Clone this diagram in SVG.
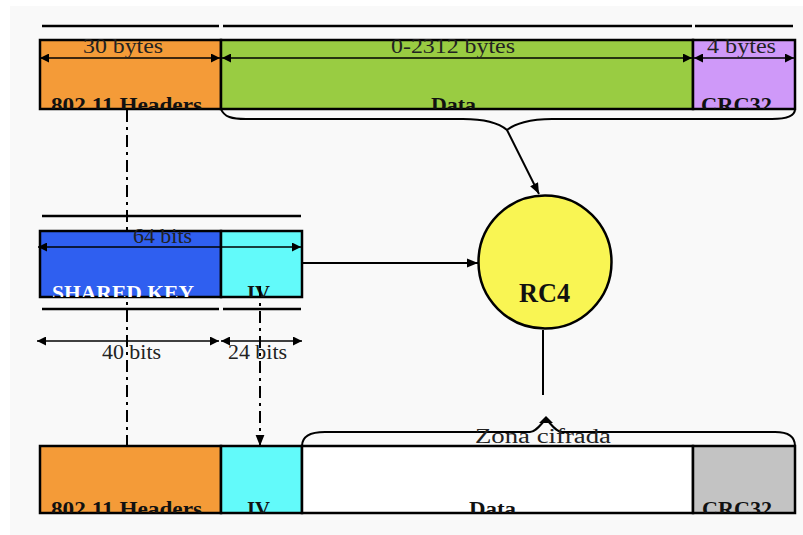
<svg xmlns="http://www.w3.org/2000/svg" width="803" height="535" viewBox="0 0 803 535">
<defs>
<marker id="ah" viewBox="0 0 10 10" refX="10" refY="5" markerWidth="9" markerHeight="9" markerUnits="userSpaceOnUse" orient="auto-start-reverse"><path d="M0,0 L10,5 L0,10 z" fill="#000"/></marker>
<marker id="ahb" viewBox="0 0 10 10" refX="10" refY="5" markerWidth="11" markerHeight="11" markerUnits="userSpaceOnUse" orient="auto"><path d="M0,1 L10,5 L0,9 z" fill="#000"/></marker>
<clipPath id="c1"><rect x="40" y="40" width="755" height="69"/></clipPath>
<clipPath id="c2"><rect x="40" y="231" width="262" height="66"/></clipPath>
<clipPath id="c3"><rect x="40" y="446" width="755" height="67"/></clipPath>
</defs>
<style>
.box{stroke:#000;stroke-width:2.5}
.lbl{font-family:"Liberation Serif","Times New Roman",serif;font-weight:bold;font-size:20px;fill:#111}
.dim{font-family:"Liberation Serif","Times New Roman",serif;font-size:20px;fill:#222}
.bar{stroke:#000;stroke-width:2.5;fill:none}
.dl{stroke:#000;stroke-width:1.6;fill:none;marker-start:url(#ah);marker-end:url(#ah)}
.dd{stroke:#000;stroke-width:2;fill:none;stroke-dasharray:12 5 3 5}
.ln{stroke:#000;stroke-width:2;fill:none}
</style>
<rect x="10" y="6" width="793" height="529" fill="#f9f9f9"/>

<g id="connectors">
<path class="dd" d="M127,110 V446"/>
<path class="ln" d="M221,109 C224,117 232,119 246,119 H463 C485,119 500,124 507,130 C514,124 530,119 552,119 H772 C788,119 795,116 795,109"/>
<path class="ln" d="M507,130 L539,194" marker-end="url(#ahb)"/>
<path class="ln" d="M302,263 H478" marker-end="url(#ahb)"/>
<path class="ln" d="M543,330 V395"/>
<path class="ln" d="M302,446 C302,437 310,432 325,432 H530 C536,432 540,425 546,419 C552,425 556,432 562,432 H775 C788,432 795,437 795,446"/>
<path d="M539,423 L546,416 L553,423 z" fill="#000"/>
</g>

<g id="top-headers">
<rect class="box" x="40" y="40" width="181" height="69" fill="#f49b38"/>
<text class="lbl" x="51" y="112" textLength="151" lengthAdjust="spacingAndGlyphs" clip-path="url(#c1)">802.11 Headers</text>
</g>
<g id="top-data">
<rect class="box" x="221" y="40" width="472" height="69" fill="#99cc42"/>
<text class="lbl" x="431" y="112" textLength="45" lengthAdjust="spacingAndGlyphs" clip-path="url(#c1)">Data</text>
</g>
<g id="top-crc">
<rect class="box" x="693" y="40" width="102" height="69" fill="#cf99f9"/>
<text class="lbl" x="701" y="112" textLength="71" lengthAdjust="spacingAndGlyphs" clip-path="url(#c1)">CRC32</text>
</g>

<g id="shared-key">
<rect class="box" x="40" y="231" width="181" height="66" fill="#2f5ff0"/>
<text class="lbl" x="52" y="300" textLength="142" lengthAdjust="spacingAndGlyphs" style="fill:#fff" clip-path="url(#c2)">SHARED KEY</text>
</g>
<g id="iv-key">
<rect class="box" x="221" y="231" width="81" height="66" fill="#62fafa"/>
<text class="lbl" x="247" y="300" textLength="23" lengthAdjust="spacingAndGlyphs" clip-path="url(#c2)">IV</text>
</g>

<g id="rc4">
<circle cx="545" cy="262" r="66.5" fill="#f9f553" stroke="#000" stroke-width="2.5"/>
<text class="lbl" x="519" y="302" style="font-size:28px" textLength="51" lengthAdjust="spacingAndGlyphs">RC4</text>
</g>

<g id="bottom-headers">
<rect class="box" x="40" y="446" width="181" height="67" fill="#f49b38"/>
<text class="lbl" x="51" y="516" textLength="151" lengthAdjust="spacingAndGlyphs" clip-path="url(#c3)">802.11 Headers</text>
</g>
<g id="bottom-iv">
<rect class="box" x="221" y="446" width="81" height="67" fill="#62fafa"/>
<text class="lbl" x="247" y="516" textLength="23" lengthAdjust="spacingAndGlyphs" clip-path="url(#c3)">IV</text>
</g>
<g id="bottom-data">
<rect class="box" x="302" y="446" width="391" height="67" fill="#ffffff"/>
<text class="lbl" x="469" y="516" textLength="47" lengthAdjust="spacingAndGlyphs" clip-path="url(#c3)">Data</text>
</g>
<g id="bottom-crc">
<rect class="box" x="693" y="446" width="102" height="67" fill="#c3c3c3"/>
<text class="lbl" x="702" y="516" textLength="70" lengthAdjust="spacingAndGlyphs" clip-path="url(#c3)">CRC32</text>
</g>

<g id="iv-link">
<path class="dd" d="M260,286 V446" marker-end="url(#ahb)"/>
</g>

<g id="dimensions">
<path class="bar" d="M42,26 H219 M223,26 H692 M695,26 H793"/>
<path class="dl" d="M40,58 H220"/>
<path class="dl" d="M222,58 H692"/>
<path class="dl" d="M694,58 H794"/>
<text class="dim" x="83" y="53" textLength="80" lengthAdjust="spacingAndGlyphs">30 bytes</text>
<text class="dim" x="391" y="53" textLength="124" lengthAdjust="spacingAndGlyphs">0-2312 bytes</text>
<text class="dim" x="707" y="53" textLength="69" lengthAdjust="spacingAndGlyphs">4 bytes</text>

<path class="bar" d="M42,216 H301"/>
<path class="dl" d="M38,247 H301"/>
<text class="dim" x="133" y="243" textLength="59" lengthAdjust="spacingAndGlyphs">64 bits</text>

<path class="bar" d="M42,309 H219 M223,309 H301"/>
<path class="dl" d="M37,341 H219"/>
<path class="dl" d="M221,341 H302"/>
<text class="dim" x="102" y="359" textLength="59" lengthAdjust="spacingAndGlyphs">40 bits</text>
<text class="dim" x="228" y="359" textLength="59" lengthAdjust="spacingAndGlyphs">24 bits</text>
<text class="dim" x="475" y="443" textLength="136" lengthAdjust="spacingAndGlyphs">Zona cifrada</text>
</g>
</svg>
